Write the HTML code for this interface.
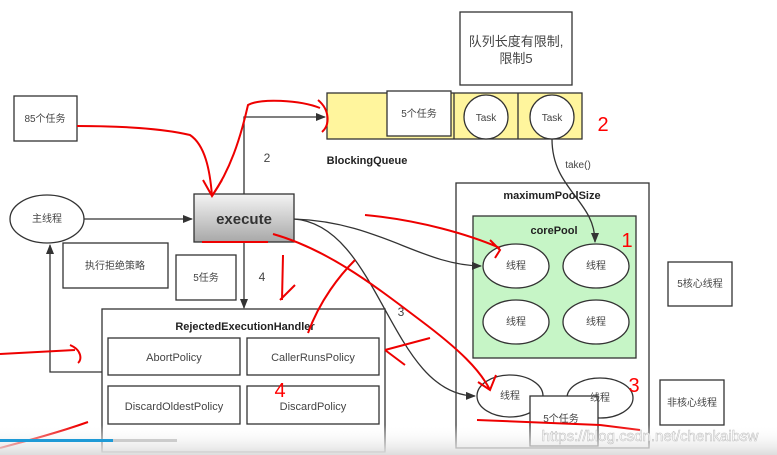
<!DOCTYPE html>
<html><head><meta charset="utf-8"><style>
body{margin:0;background:#fff}
svg{display:block;font-family:"Liberation Sans","Noto Sans CJK SC",sans-serif}
</style></head><body>
<svg width="777" height="455" viewBox="0 0 777 455" xmlns="http://www.w3.org/2000/svg">
<defs>
<linearGradient id="g" x1="0" y1="0" x2="0" y2="1"><stop offset="0" stop-color="#f4f4f4"/><stop offset="1" stop-color="#a8a8a8"/></linearGradient>
<linearGradient id="bot" x1="0" y1="0" x2="0" y2="1"><stop offset="0" stop-color="#fff" stop-opacity="0"/><stop offset="1" stop-color="#ddd"/></linearGradient>
<marker id="a" markerWidth="10" markerHeight="8" refX="9" refY="4" orient="auto" markerUnits="userSpaceOnUse"><path d="M0,0L10,4L0,8z" fill="#333"/></marker>
</defs>
<g fill="none" stroke="#333" stroke-width="1.3">
<rect x="14" y="96" width="63" height="45" fill="#fff"/>
<ellipse cx="47" cy="219" rx="37" ry="24" fill="#fff"/>
<rect x="63" y="243" width="105" height="45" fill="#fff"/>
<rect x="176" y="255" width="60" height="45" fill="#fff"/>
<polyline points="244,194 244,117 325,117" marker-end="url(#a)"/>
<polyline points="244,242 244,308" marker-end="url(#a)"/>
<polyline points="102,372 50,372 50,245" marker-end="url(#a)"/>
<line x1="84" y1="219" x2="192" y2="219" marker-end="url(#a)"/>
<rect x="194" y="194" width="100" height="48" fill="url(#g)"/>
<rect x="327" y="93" width="255" height="46" fill="#fff59d"/>
<line x1="454" y1="93" x2="454" y2="139"/><line x1="518" y1="93" x2="518" y2="139"/>
<rect x="387" y="91" width="64" height="45" fill="#fff"/>
<circle cx="486" cy="117" r="22" fill="#fff"/>
<circle cx="552" cy="117" r="22" fill="#fff"/>
<rect x="460" y="12" width="112" height="73" fill="#fff"/>
<rect x="456" y="183" width="193" height="265" fill="#fff"/>
<rect x="473" y="216" width="163" height="142" fill="#c6f5c6"/>
<path d="M552,139 C552,190 595,200 595,242" marker-end="url(#a)"/>
<ellipse cx="516" cy="266" rx="33" ry="22" fill="#fff"/>
<ellipse cx="596" cy="266" rx="33" ry="22" fill="#fff"/>
<ellipse cx="516" cy="322" rx="33" ry="22" fill="#fff"/>
<ellipse cx="596" cy="322" rx="33" ry="22" fill="#fff"/>
<ellipse cx="510" cy="396" rx="33" ry="21" fill="#fff"/>
<ellipse cx="600" cy="398" rx="33" ry="20" fill="#fff"/>
<rect x="530" y="396" width="68" height="50" fill="#fff"/>
<rect x="668" y="262" width="64" height="44" fill="#fff"/>
<rect x="660" y="380" width="64" height="45" fill="#fff"/>
<path d="M294,219 C380,222 420,265 481,266" marker-end="url(#a)"/>
<path d="M294,219 C380,225 390,395 475,396" marker-end="url(#a)"/>
<rect x="102" y="309" width="283" height="143" fill="#fff"/>
<rect x="108" y="338" width="132" height="37" fill="#fff"/>
<rect x="247" y="338" width="132" height="37" fill="#fff"/>
<rect x="108" y="386" width="132" height="38" fill="#fff"/>
<rect x="247" y="386" width="132" height="38" fill="#fff"/>
</g>
<g fill="#444" font-size="10" text-anchor="middle">
<text x="45" y="122">85个任务</text>
<text x="47" y="222">主线程</text>
<text x="115" y="269">执行拒绝策略</text>
<text x="206" y="281">5任务</text>
<text x="419" y="117">5个任务</text>
<text x="486" y="121">Task</text>
<text x="552" y="121">Task</text>
<text x="578" y="168">take()</text>
<text x="516" y="269">线程</text><text x="596" y="269">线程</text>
<text x="516" y="325">线程</text><text x="596" y="325">线程</text>
<text x="510" y="399">线程</text><text x="600" y="401">线程</text>
<text x="561" y="422">5个任务</text>
<text x="700" y="287">5核心线程</text>
<text x="692" y="406">非核心线程</text>
<text x="516" y="46" font-size="13">队列长度有限制,</text>
<text x="516" y="63" font-size="13">限制5</text>
<text x="174" y="361" font-size="11">AbortPolicy</text>
<text x="313" y="361" font-size="11">CallerRunsPolicy</text>
<text x="174" y="410" font-size="11">DiscardOldestPolicy</text>
<text x="313" y="410" font-size="11">DiscardPolicy</text>
<text x="267" y="162" font-size="12">2</text>
<text x="262" y="281" font-size="12">4</text>
<text x="401" y="316" font-size="12">3</text>
</g>
<g fill="#222" font-weight="bold" text-anchor="middle">
<text x="244" y="224" font-size="15" fill="#333">execute</text>
<text x="367" y="164" font-size="11">BlockingQueue</text>
<text x="552" y="199" font-size="11">maximumPoolSize</text>
<text x="554" y="234" font-size="11">corePool</text>
<text x="245" y="330" font-size="11">RejectedExecutionHandler</text>
</g>
<g fill="#f00" font-size="20" text-anchor="middle">
<text x="603" y="131">2</text><text x="627" y="247">1</text><text x="634" y="392">3</text><text x="280" y="397">4</text>
</g>
<g fill="none" stroke="#e00" stroke-width="2">
<path d="M77,126 C120,126 160,128 190,135 C205,145 210,170 212,196 M203,180 L212,196 L222,180"/>
<path d="M212,196 C230,170 240,140 248,105 C260,98 300,100 320,108 M318,100 C330,110 330,125 322,132"/>
<path d="M202,242 L268,242"/>
<path d="M273,234 C330,250 380,290 420,320 C460,350 480,370 490,390 M478,382 L490,390 L496,375"/>
<path d="M365,215 C420,220 470,235 500,248 M490,240 L500,250 L495,258"/>
<path d="M283,255 L282,300 M280,300 L295,285"/>
<path d="M308,333 C320,300 340,275 355,260"/>
<path d="M385,350 L430,338 M385,350 L405,365"/>
<path d="M0,354 L75,350 M70,345 C82,350 82,360 78,363"/>
<path d="M0,448 C30,440 60,432 88,422"/>
<path d="M477,420 L600,425 M600,425 L640,430"/>
</g>
<rect x="0" y="425" width="777" height="30" fill="url(#bot)"/>
<rect x="0" y="439" width="113" height="3" fill="#1e9ad6"/>
<rect x="113" y="439" width="64" height="3" fill="#ccc"/>
<text x="650" y="441" font-size="15" fill="#fff" stroke="#bbb" stroke-width="0.5" text-anchor="middle">https://blog.csdn.net/chenkaibsw</text>
</svg>
</body></html>
